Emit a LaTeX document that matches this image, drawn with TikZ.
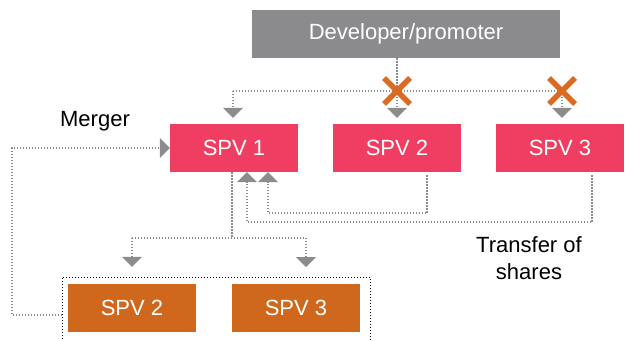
\documentclass[tikz,border=0pt]{standalone}
\usepackage{fontspec}
\setmainfont{Liberation Sans}
\usetikzlibrary{arrows.meta}
\definecolor{devgray}{HTML}{8B8B8D}
\definecolor{spvpink}{HTML}{F03E63}
\definecolor{spvorange}{HTML}{CF681C}
\definecolor{linegray}{HTML}{8C8C8C}
\definecolor{xorange}{HTML}{DB6A22}
\tikzset{
  box/.style={rectangle, minimum width=128pt, minimum height=48pt, inner sep=0pt, text=white, font=\fontsize{22}{26}\selectfont},
  pinkbox/.style={box, fill=spvpink},
  orangebox/.style={box, fill=spvorange},
  devbox/.style={box, fill=devgray, minimum width=308pt},
  conn/.style={draw=linegray, line width=1.5pt, dash pattern=on 1.4pt off 1.6pt},
  arr/.style={conn, -{Triangle[width=20pt,length=10pt]}},
  lbl/.style={font=\fontsize{22}{27}\selectfont, align=center, inner sep=0pt},
  xmark/.style={draw=xorange, line width=5.5pt},
  frame/.style={draw=black, line width=1pt, dash pattern=on 1pt off 2pt}
}
\begin{document}
\begin{tikzpicture}[x=1pt,y=-1pt]
\useasboundingbox (0,0) rectangle (626,340);
% nodes
\node[devbox] (dev) at (406,34) {Developer/promoter};
\node[pinkbox] (s1) at (234,148) {SPV 1};
\node[pinkbox] (s2) at (397,148) {SPV 2};
\node[pinkbox] (s3) at (560,148) {SPV 3};
\node[orangebox] (o2) at (132,308) {SPV 2};
\node[orangebox] (o3) at (296,308) {SPV 3};
\node[lbl] (merger) at (95,121) {Merger};
\node[lbl] (transfer) at (529,258) {Transfer of\\shares};
% dotted frame around new SPVs
\draw[frame] (62,345) -- (62,277) -- (370,277) -- (370,345);
\coordinate (fl) at (62,315);
% developer distribution
\coordinate (dsplit) at (397,91);
\coordinate (dl) at (233,91);
\coordinate (dr) at (562,91);
\draw[conn] (dev.south -| dsplit) -- (dsplit);
\draw[conn] (dl) -- (dr);
\draw[arr] (dl) -- ([yshift=6pt]s1.north -| dl);
\draw[arr] (dsplit) -- ([yshift=6pt]s2.north -| dsplit);
\draw[arr] (dr) -- ([yshift=6pt]s3.north -| dr);
% X marks
\foreach \c in {dsplit,dr}{
  \draw[xmark] ([shift={(-13,-13)}]\c) -- ([shift={(13,13)}]\c);
  \draw[xmark] ([shift={(-13,13)}]\c) -- ([shift={(13,-13)}]\c);
}
% merger
\draw[arr] (fl) -- (12,315) -- (12,148) -- (s1.west);
% SPV1 to new SPVs
\coordinate (ssplit) at (232,238);
\draw[conn] ([xshift=-2pt]s1.south) -- (ssplit);
\draw[conn] (132,238) -- (306,238);
\draw[arr] (132,238) -- ([yshift=17pt]o2.north);
\draw[arr] (306,238) -- (306,267);
% transfer of shares
\draw[arr] ([xshift=30pt,yshift=-3pt]s2.south) -- ++(0,38) -| ([xshift=34pt]s1.south);
\draw[arr] ([xshift=32pt,yshift=-3pt]s3.south) -- ++(0,47) -| ([xshift=13pt]s1.south);
\end{tikzpicture}
\end{document}
